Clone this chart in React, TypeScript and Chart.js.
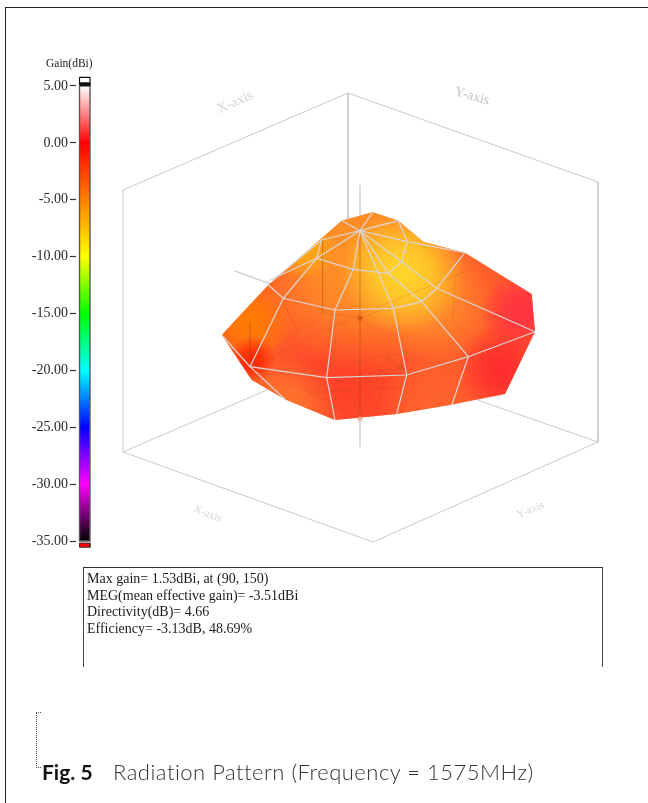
import React, { useEffect, useRef } from "react";
import { Chart, registerables } from "chart.js";

Chart.register(...registerables);

type P = [number, number];

// Colour scale
const gainTicks = [5, 0, -5, -10, -15, -20, -25, -30, -35];
const gainStops: [number, string][] = [
  [5, "#ffffff"], [0, "#ff0000"], [-5, "#ff7f00"], [-10, "#ffff00"], [-15, "#00ff00"],
  [-20, "#00ffff"], [-25, "#0000ff"], [-30, "#ff00ff"], [-35, "#000000"],
];
const GAIN_PER_PX = 40 / 455;
const gainAxisMax = 5 + 86 * GAIN_PER_PX;
const gainAxisMin = -35 - (803 - 541) * GAIN_PER_PX;

// Projected 3D box
const boxLines: P[][] = [
  [[123, 190], [348, 93], [598, 182], [598, 442], [373, 542], [123, 452], [123, 190]],
  [[348, 93], [348, 345]],
  [[123, 452], [348, 355], [598, 442]],
];
const axisLines: P[][] = [
  [[360, 185], [360, 447]],
  [[235, 271], [485, 362]],
];

// Pattern outline
const outline: P[] = [
  [221.7, 335], [268.3, 285], [341.7, 220.7], [372.7, 212.3], [398.3, 220.7], [423.3, 241.7],
  [465, 252.7], [531.7, 294], [535, 331.7], [505, 394], [450, 405], [396.7, 414], [335, 420],
  [285, 399.3], [251.7, 380], [221.7, 335],
];

// Colour patches on the pattern: x, y, radius, rgb, strength
const patches: [number, number, number, string, number][] = [
  [345, 385, 85, "255,52,40", 0.7],
  [285, 412, 55, "255,125,45", 0.85],
  [425, 405, 45, "255,105,45", 0.5],
  [365, 255, 118, "255,152,38", 1],
  [440, 305, 58, "255,160,42", 0.6],
  [250, 322, 42, "255,125,0", 1],
  [252, 360, 24, "255,30,0", 0.9],
  [305, 248, 32, "255,175,10", 0.9],
  [403, 273, 62, "255,215,42", 1],
  [522, 312, 42, "255,48,66", 1],
  [502, 370, 46, "255,38,48", 0.95],
];

// Wires seen through the surface
const backWires: P[][] = [
  [[322.7, 240], [322.7, 313], [298.3, 333.3], [282.7, 300]],
  [[322.7, 313], [360, 318.3], [390, 306.7]],
  [[455, 275], [453.3, 323.3], [490, 360], [505, 394]],
  [[298.3, 333.3], [253.3, 363.3]],
  [[250, 321.7], [250, 370]],
  [[253, 366.7], [350, 318.3], [473.3, 268.3]],
  [[360, 419], [350, 390], [306.7, 390]],
  [[360, 419], [306.7, 390]],
  [[360, 419], [386.7, 356.7], [406.7, 375]],
  [[386.7, 356.7], [450, 403]],
  [[373.3, 420], [390, 356.7]],
  [[353.3, 363.3], [386.7, 353.3], [406.7, 356.7]],
  [[306.7, 393.3], [406.7, 386.7]],
  [[360, 230.7], [360, 419]],
];

// Wires on the front of the surface
const frontWires: P[][] = [
  [[273, 280], [321.7, 240], [316.7, 258.3], [353.3, 269.3], [388.3, 273.3], [401.7, 261.7], [407.3, 241.7], [398.3, 220.7]],
  [[270, 280], [316.7, 258.3]],
  [[268.3, 285], [283.3, 298.3], [335, 310], [393.3, 308.3], [421.7, 301.7], [436.7, 288.3], [465, 252.7]],
  [[221.7, 335], [250, 366.7], [326.7, 377.7], [406.7, 375], [468.3, 356.7], [535, 331.7]],
  [[360, 230.7], [353.3, 269.3], [335, 310], [326.7, 377.7], [335, 420]],
  [[360, 230.7], [393.3, 308.3], [406.7, 375], [396.7, 414]],
  [[360, 230.7], [388.3, 273.3], [421.7, 301.7], [468.3, 356.7], [451.7, 405]],
  [[360, 230.7], [401.7, 261.7], [436.7, 288.3], [535, 331.7]],
  [[360, 230.7], [407.3, 241.7], [465, 252.7]],
  [[360, 230.7], [398.3, 220.7]],
  [[360, 230.7], [372.7, 212.3]],
  [[360, 230.7], [341.7, 220.7]],
  [[360, 230.7], [321.7, 240]],
  [[360, 230.7], [316.7, 258.3], [283.3, 298.3], [250, 366.7], [285, 399.3]],
];

const backSpots: P[] = [[360, 318.3]];
const lowerSpots: P[] = [[360, 419]];

// Readouts
const statLines = [
  "Max gain= 1.53dBi, at (90, 150)",
  "MEG(mean effective gain)= -3.51dBi",
  "Directivity(dB)= 4.66",
  "Efficiency= -3.13dB, 48.69%",
];
const axisTitles: [string, number, number, number, number, string][] = [
  ["X-axis", 235, 102, -24, 14, "#d4d4d4"],
  ["Y-axis", 472, 96, 16, 14, "#c4c4c4"],
  ["X-axis", 208, 513, 22, 11, "#d4d4d4"],
  ["Y-axis", 530, 509, -22, 11, "#d4d4d4"],
];

const BAR_LEFT = 79.5;
const BAR_RIGHT = 90;

const toXY = (pts: P[]) => pts.map(([x, y]) => ({ x, y }));

export default function App() {
  const ref = useRef<HTMLCanvasElement>(null);

  useEffect(() => {
    if (!ref.current) return;

    const poly = (pts: P[], extra: any = {}) => ({
      data: toXY(pts),
      showLine: true,
      pointRadius: 0,
      fill: false,
      tension: 0,
      xAxisID: "x",
      yAxisID: "y",
      ...extra,
    });

    const barFill = (c: any) => {
      const s = c.chart.scales.gain;
      if (!s) return "#ff0000";
      const y0 = s.getPixelForValue(5);
      const y1 = s.getPixelForValue(-35);
      if (!Number.isFinite(y0) || !Number.isFinite(y1)) return "#ff0000";
      const g = c.chart.ctx.createLinearGradient(0, y0, 0, y1);
      gainStops.forEach(([v, col]) => g.addColorStop((5 - v) / 40, col));
      return g;
    };

    const patchFill = (p: [number, number, number, string, number]) => (c: any) => {
      const { x, y } = c.chart.scales;
      if (!x || !y) return "rgba(0,0,0,0)";
      const px = x.getPixelForValue(p[0]);
      const py = y.getPixelForValue(p[1]);
      if (!Number.isFinite(px) || !Number.isFinite(py)) return "rgba(0,0,0,0)";
      const g = c.chart.ctx.createRadialGradient(px, py, 0, px, py, p[2]);
      g.addColorStop(0, `rgba(${p[3]},${p[4]})`);
      g.addColorStop(0.45, `rgba(${p[3]},${p[4] * 0.72})`);
      g.addColorStop(1, `rgba(${p[3]},0)`);
      return g;
    };

    const barPoly = (top: number, bottom: number, extra: any) => ({
      data: [
        { x: BAR_LEFT, y: top }, { x: BAR_RIGHT, y: top },
        { x: BAR_RIGHT, y: bottom }, { x: BAR_LEFT, y: bottom }, { x: BAR_LEFT, y: top },
      ],
      showLine: true,
      pointRadius: 0,
      fill: "shape",
      tension: 0,
      xAxisID: "x",
      yAxisID: "gain",
      ...extra,
    });

    const layers: any[] = [
      ...boxLines.map((l) => poly(l, { borderColor: "#c9c9c9", borderWidth: 1 })),
      ...axisLines.map((l) => poly(l, { borderColor: "#c4c4c4", borderWidth: 1.2 })),
      poly(outline, { fill: "shape", backgroundColor: "#ff5d2b", borderWidth: 0, borderColor: "rgba(0,0,0,0)" }),
      ...patches.map((p) =>
        poly(outline, { fill: "shape", backgroundColor: patchFill(p), borderWidth: 0, borderColor: "rgba(0,0,0,0)" })
      ),
      ...backWires.map((l) => poly(l, { borderColor: "rgba(150,60,10,0.16)", borderWidth: 1 })),
      poly(backSpots, { showLine: false, pointRadius: 3.5, pointStyle: "rectRot", pointBackgroundColor: "rgba(200,70,0,0.55)", pointBorderWidth: 0 }),
      poly(lowerSpots, { showLine: false, pointRadius: 3, pointStyle: "rectRot", pointBackgroundColor: "rgba(235,180,150,0.9)", pointBorderWidth: 0 }),
      ...frontWires.map((l) => poly(l, { borderColor: "#d8d5d3", borderWidth: 1.2 })),
      barPoly(5, -35, { backgroundColor: barFill, borderColor: "#5a5a5a", borderWidth: 1.4 }),
      barPoly(5.76, 5.26, { backgroundColor: "#ffffff", borderColor: "#111111", borderWidth: 1.2 }),
      barPoly(5.26, 5.05, { backgroundColor: "#111111", borderColor: "#111111", borderWidth: 1 }),
      barPoly(-35.18, -35.55, { backgroundColor: "#ff0000", borderColor: "#333333", borderWidth: 1 }),
    ];
    layers.forEach((d, i) => (d.order = layers.length - i));

    const chart = new Chart(ref.current, {
      type: "scatter",
      data: { datasets: layers },
      options: {
        animation: false,
        responsive: false,
        devicePixelRatio: 1,
        events: [],
        layout: { padding: 0, autoPadding: false },
        plugins: { legend: { display: false }, tooltip: { enabled: false }, title: { display: false } },
        scales: {
          x: { type: "linear", min: 76, max: 648, display: false },
          y: { type: "linear", min: 0, max: 803, reverse: true, display: false },
          gain: {
            type: "linear",
            position: "left",
            min: gainAxisMin,
            max: gainAxisMax,
            afterBuildTicks: (s: any) => {
              s.ticks = gainTicks.map((value) => ({ value }));
            },
            afterFit: (s: any) => {
              s.width = 76;
              s.paddingTop = 0;
              s.paddingBottom = 0;
            },
            border: { display: false },
            grid: { drawOnChartArea: false, drawTicks: true, tickLength: 6, tickColor: "#333333", tickWidth: 1.2 },
            ticks: {
              autoSkip: false,
              padding: 2,
              color: "#2a2a2a",
              font: { family: "'Liberation Serif'", size: 14 },
              callback: (v: any) => Number(v).toFixed(2),
            },
          },
        },
      } as any,
    });
    return () => chart.destroy();
  }, []);

  const abs = (o: React.CSSProperties): React.CSSProperties => ({ position: "absolute", ...o });

  return (
    <div style={abs({ left: 0, top: 0, width: 648, height: 803, overflow: "hidden", background: "#fff" })}>
      <canvas ref={ref} width={648} height={803} style={abs({ left: 0, top: 0, display: "block" })} />
      <div style={abs({ left: 5, top: 7, width: 643, height: 796, borderLeft: "1.5px solid #222", borderTop: "1.5px solid #222", boxSizing: "border-box" })} />
      <div style={abs({ left: 46, top: 57, fontFamily: "'Liberation Serif'", fontSize: 11.5, color: "#222", lineHeight: "12px" })}>Gain(dBi)</div>
      {axisTitles.map(([t, x, y, r, s, c], i) => (
        <div key={i} style={abs({ left: x, top: y, transform: `translate(-50%,-50%) rotate(${r}deg)`, fontFamily: "'Liberation Serif'", fontSize: s, color: c, whiteSpace: "nowrap" })}>{t}</div>
      ))}
      <div style={abs({ left: 83, top: 567, width: 520, height: 100, boxSizing: "border-box", borderLeft: "1.5px solid #444", borderRight: "1.5px solid #444", borderTop: "1.5px solid #333", padding: "3px 0 0 3px", fontFamily: "'Liberation Serif'", fontSize: 14, lineHeight: "16.7px", color: "#1a1a1a" })}>
        {statLines.map((l, i) => (<div key={i} style={{ whiteSpace: "nowrap" }}>{l}</div>))}
      </div>
      <div style={abs({ left: 36, top: 712, width: 5, height: 56, borderLeft: "1px dotted #555", borderTop: "1px dotted #555", borderBottom: "1px dotted #555", boxSizing: "border-box" })} />
      <div style={abs({ left: 42, top: 757, fontFamily: "Lato, sans-serif", fontWeight: 700, fontSize: 21, color: "#111", whiteSpace: "nowrap", lineHeight: "30px" })}>Fig. 5</div>
      <div style={abs({ left: 113, top: 757, fontFamily: "Lato, sans-serif", fontWeight: 300, fontSize: 22, letterSpacing: 0.5, color: "#333", whiteSpace: "nowrap", lineHeight: "30px" })}>Radiation Pattern (Frequency = 1575MHz)</div>
    </div>
  );
}
